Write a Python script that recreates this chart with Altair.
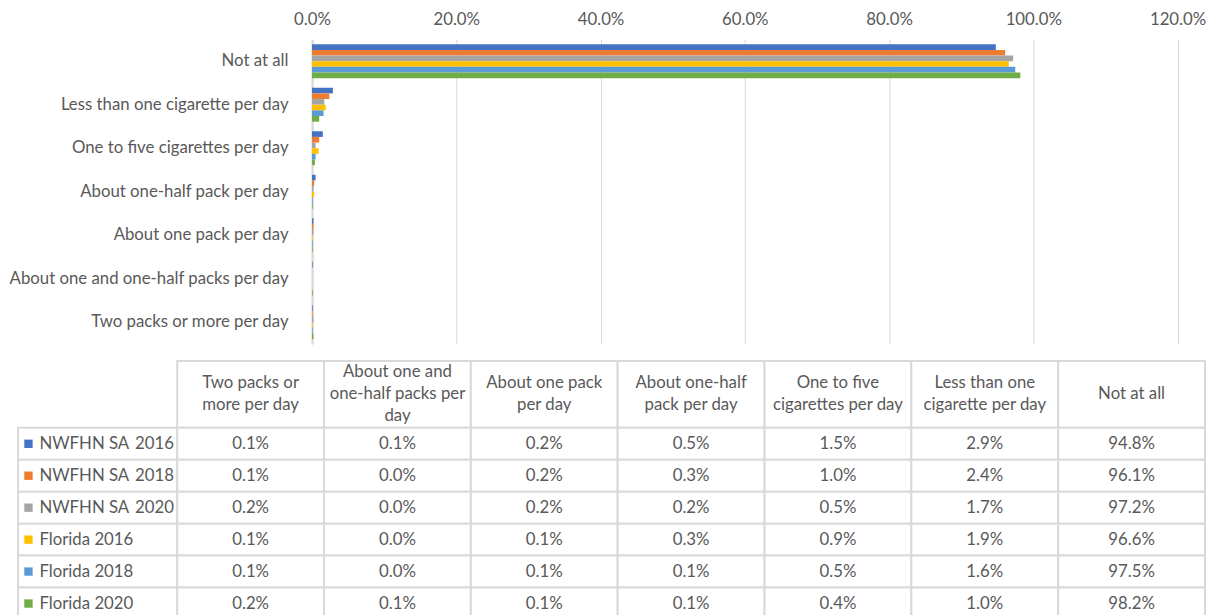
import altair as alt
import pandas as pd

# ---------------- data ----------------
categories = [
    "Two packs or more per day",
    "About one and one-half packs per day",
    "About one pack per day",
    "About one-half pack per day",
    "One to five cigarettes per day",
    "Less than one cigarette per day",
    "Not at all",
]
header_lines = [
    ["Two packs or", "more per day"],
    ["About one and", "one-half packs per", "day"],
    ["About one pack", "per day"],
    ["About one-half", "pack per day"],
    ["One to five", "cigarettes per day"],
    ["Less than one", "cigarette per day"],
    ["Not at all"],
]
series = ["NWFHN SA \u20092016", "NWFHN SA \u20092018", "NWFHN SA \u20092020",
          "Florida 2016", "Florida 2018", "Florida 2020"]
colors = ["#4472C4", "#ED7D31", "#A5A5A5", "#FFC000", "#5B9BD5", "#70AD47"]

nwfhn_2016 = [0.1, 0.1, 0.2, 0.5, 1.5, 2.9, 94.8]
nwfhn_2018 = [0.1, 0.0, 0.2, 0.3, 1.0, 2.4, 96.1]
nwfhn_2020 = [0.2, 0.0, 0.2, 0.2, 0.5, 1.7, 97.2]
florida_2016 = [0.1, 0.0, 0.1, 0.3, 0.9, 1.9, 96.6]
florida_2018 = [0.1, 0.0, 0.1, 0.1, 0.5, 1.6, 97.5]
florida_2020 = [0.2, 0.1, 0.1, 0.1, 0.4, 1.0, 98.2]
values = [nwfhn_2016, nwfhn_2018, nwfhn_2020, florida_2016, florida_2018, florida_2020]

x_ticks = [0, 20, 40, 60, 80, 100, 120]

# ---------------- layout constants (page pixels) ----------------
FONT = "Lato"
TXT = "#595959"
LINE = "#d9d9d9"
FS = 16.8
LINE_H = 22

PANEL_LEFT = 8
PANEL_RIGHT = 1207
PANEL_W = PANEL_RIGHT - PANEL_LEFT
ZERO_PX = 311.5
MAX_PX = 1178.5
PX_PER_PCT = (MAX_PX - ZERO_PX) / 120.0
x_dom = [(PANEL_LEFT - ZERO_PX) / PX_PER_PCT / 100.0,
         (120 + (PANEL_RIGHT - MAX_PX) / PX_PER_PCT) / 100.0]
BAR_H = 305

# table geometry
T_COL0 = 176.5
T_RIGHT = 1206
COL_W = (T_RIGHT - T_COL0) / 7
ROW_H = 32
HDR_H = 67
T_LABEL_LEFT = 17
SWATCH_X = 27.5
LABEL_TXT_X = 38.5
TABLE_H = HDR_H + ROW_H * 6

def cu(px):  # page pixel -> table column units
    return (px - T_COL0) / COL_W

t_xdom = [cu(PANEL_LEFT), cu(PANEL_RIGHT)]
HDR_U = HDR_H / ROW_H
LINE_U = LINE_H / ROW_H

# ---------------- bar chart ----------------
bar_rows = []
for s, vals in zip(series, values):
    for c, v in zip(categories, vals):
        bar_rows.append({"category": c, "series": s, "value": v / 100.0})
bars_df = pd.DataFrame(bar_rows)

bars = alt.Chart(bars_df).mark_bar().encode(
    x=alt.X("value:Q",
            scale=alt.Scale(domain=x_dom, nice=False, zero=False),
            axis=alt.Axis(orient="top", values=[t / 100 for t in x_ticks], format=".1%",
                          title=None, grid=True, gridColor=LINE, gridWidth=1,
                          ticks=False, domain=False, labelPadding=11,
                          labelFont=FONT, labelFontSize=FS, labelColor=TXT)),
    y=alt.Y("category:N", sort=list(reversed(categories)),
            scale=alt.Scale(paddingInner=0.22, paddingOuter=0.11),
            axis=alt.Axis(title=None, offset=-(ZERO_PX - PANEL_LEFT), labelPadding=24,
                          ticks=False, domain=True, domainColor=LINE, domainWidth=2,
                          labelFont=FONT, labelFontSize=FS, labelColor=TXT,
                          labelLimit=400)),
    yOffset=alt.YOffset("series:N", sort=series),
    color=alt.Color("series:N", scale=alt.Scale(domain=series, range=colors), legend=None),
).properties(width=PANEL_W, height=BAR_H)

# ---------------- table ----------------
cells = []
# header cells (multi-line text: first line placed so the block is centred)
for ci, lines in enumerate(header_lines):
    cells.append({"x": ci, "x2": ci + 1, "y": -HDR_U, "y2": 0,
                  "tx": ci + 0.5, "ty": -HDR_U / 2 - (len(lines) - 1) / 2 * LINE_U,
                  "text": lines, "kind": "hdr"})
# row label cells and values
for ri, (s, vals) in enumerate(zip(series, values)):
    cells.append({"x": cu(T_LABEL_LEFT), "x2": 0, "y": ri, "y2": ri + 1,
                  "tx": cu(LABEL_TXT_X), "ty": ri + 0.5, "text": [s], "kind": "lbl"})
    for ci, v in enumerate(vals):
        cells.append({"x": ci, "x2": ci + 1, "y": ri, "y2": ri + 1,
                      "tx": ci + 0.5, "ty": ri + 0.5, "text": [f"{v:.1f}%"], "kind": "val"})
cells_df = pd.DataFrame(cells)

sw_df = pd.DataFrame({"series": series, "sx": [cu(SWATCH_X)] * 6,
                      "sy": [i + 0.5 for i in range(6)]})

tx = alt.Scale(domain=t_xdom, nice=False, zero=False)
ty = alt.Scale(domain=[-HDR_U, 6], nice=False, zero=False, reverse=True)

rects = alt.Chart(cells_df).mark_rect(fill="white", stroke=LINE, strokeWidth=2).encode(
    x=alt.X("x:Q", scale=tx, axis=None), x2="x2:Q",
    y=alt.Y("y:Q", scale=ty, axis=None), y2="y2:Q",
)
center_txt = alt.Chart(cells_df).transform_filter(alt.datum.kind != "lbl").mark_text(
    font=FONT, fontSize=FS, color=TXT, align="center", baseline="middle", lineHeight=LINE_H
).encode(
    x=alt.X("tx:Q", scale=tx, axis=None),
    y=alt.Y("ty:Q", scale=ty, axis=None),
    text="text",
)
left_txt = alt.Chart(cells_df).transform_filter(alt.datum.kind == "lbl").mark_text(
    font=FONT, fontSize=FS, color=TXT, align="left", baseline="middle"
).encode(
    x=alt.X("tx:Q", scale=tx, axis=None),
    y=alt.Y("ty:Q", scale=ty, axis=None),
    text="text",
)
swatches = alt.Chart(sw_df).mark_square(size=70, opacity=1).encode(
    x=alt.X("sx:Q", scale=tx, axis=None),
    y=alt.Y("sy:Q", scale=ty, axis=None),
    color=alt.Color("series:N", scale=alt.Scale(domain=series, range=colors), legend=None),
)
table = alt.layer(rects, center_txt, left_txt, swatches).properties(width=PANEL_W, height=TABLE_H)

chart = alt.vconcat(bars, table, spacing=16).resolve_scale(
    color="independent", x="independent", y="independent"
).properties(
    padding={"left": 0, "top": 3, "right": 0, "bottom": 0},
    background="white",
).configure_view(stroke="transparent", strokeWidth=0)

chart.save("out.html", embed_options={"renderer": "svg", "actions": False})
